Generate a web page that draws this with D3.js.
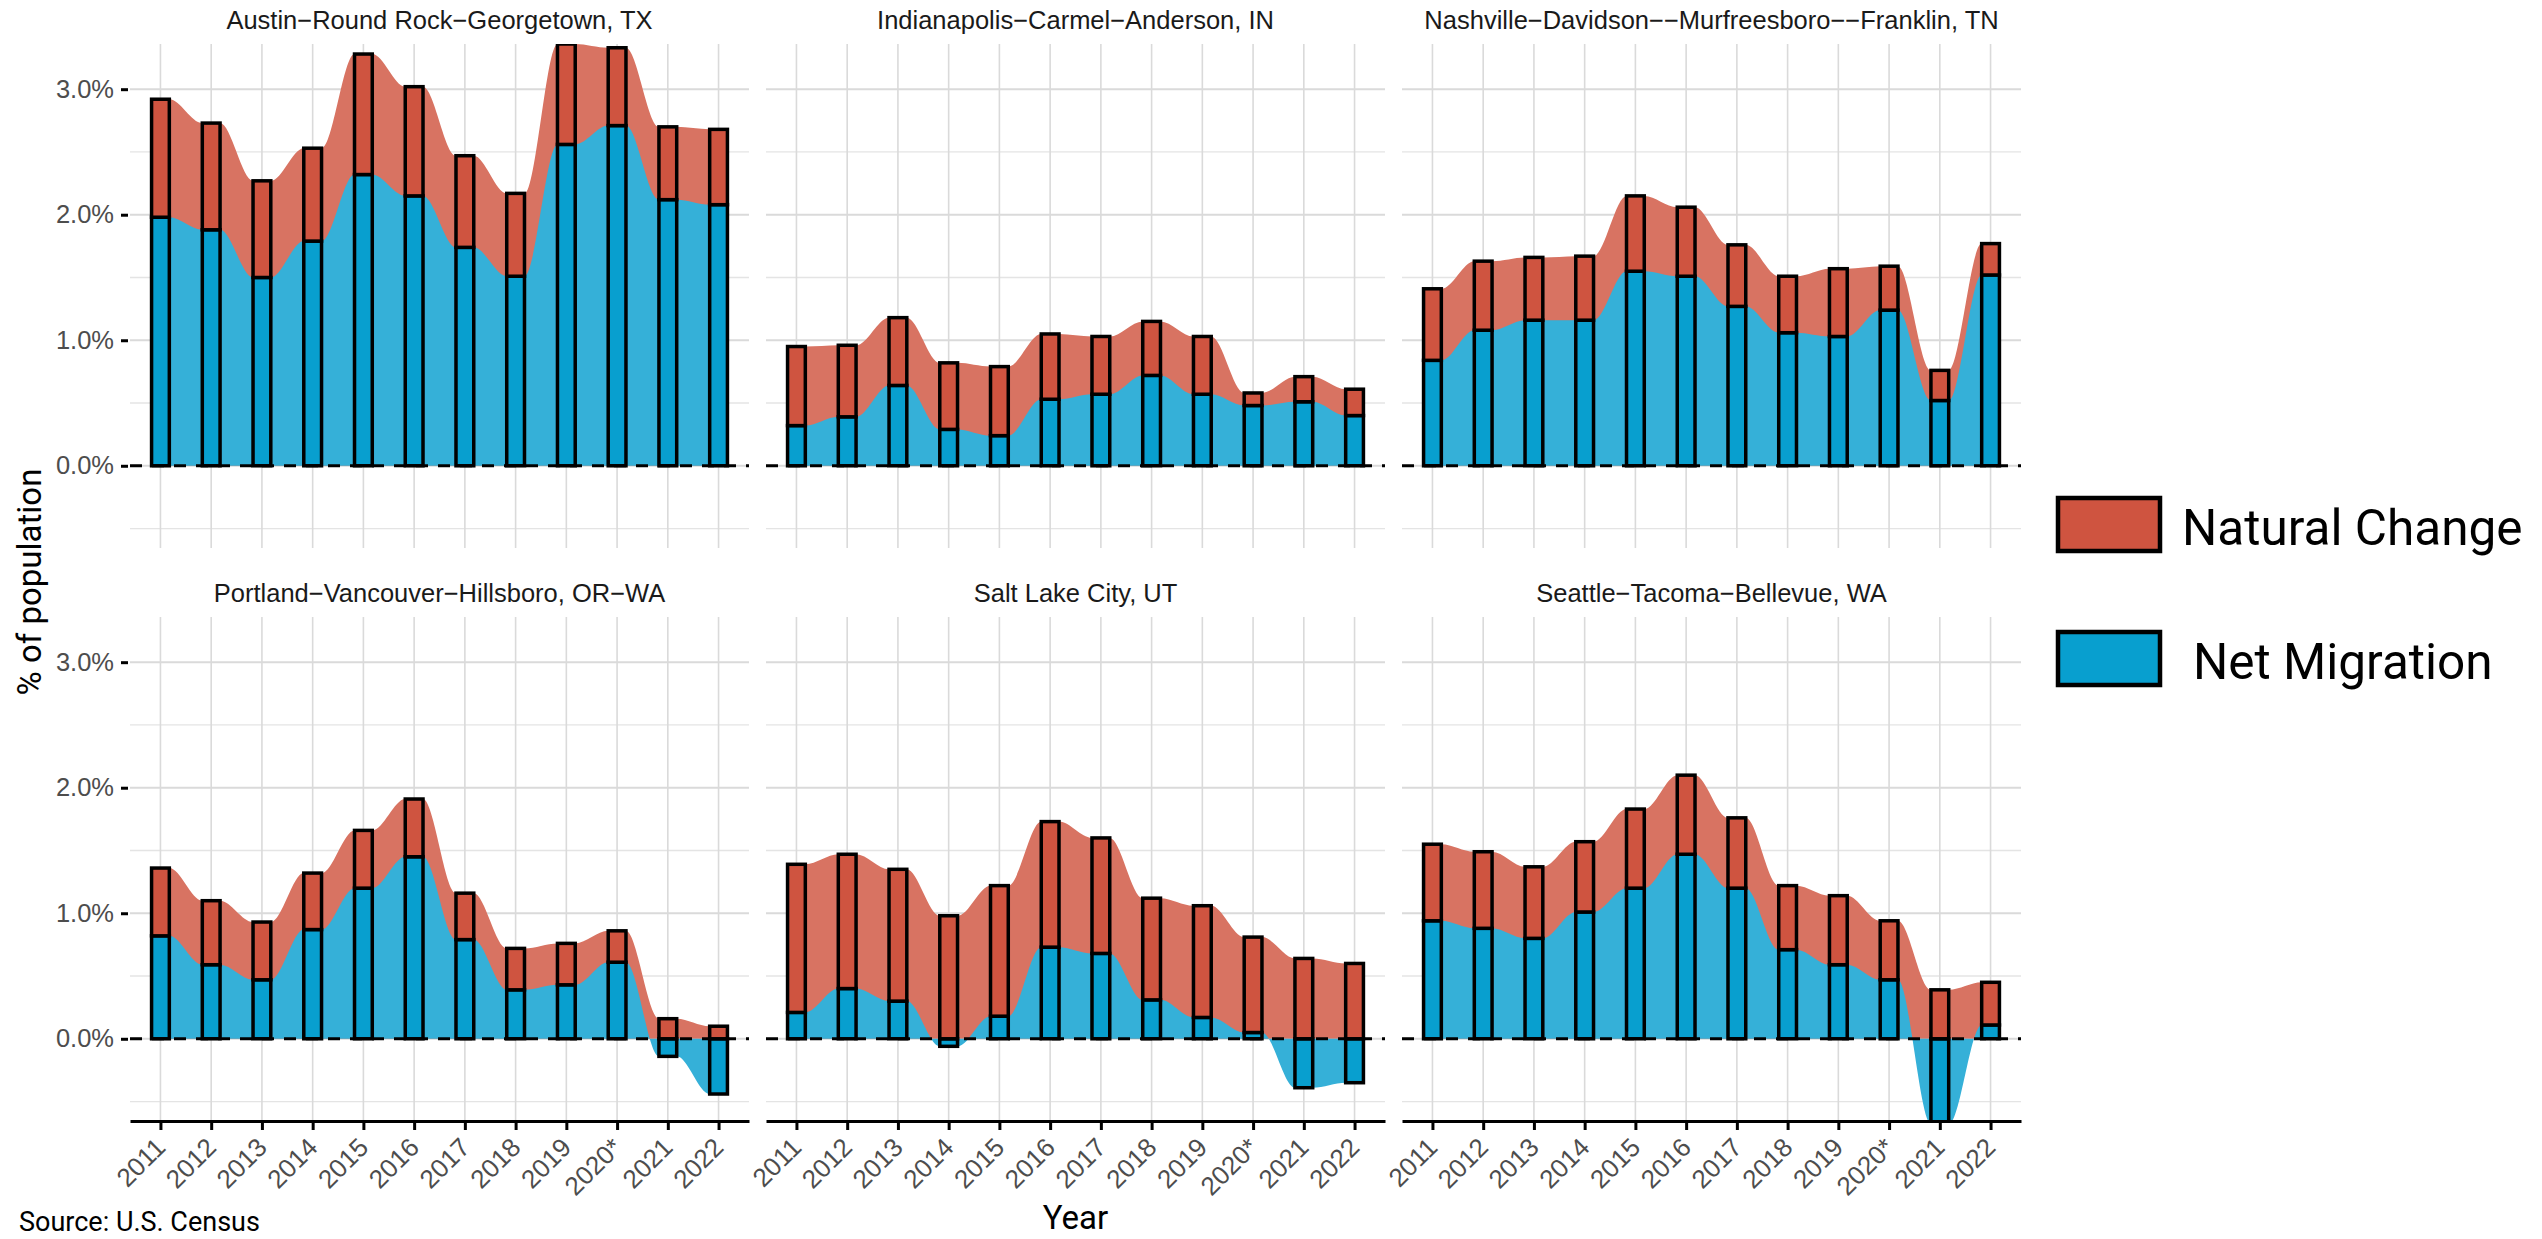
<!DOCTYPE html>
<html>
<head>
<meta charset="utf-8">
<script src="https://cdn.jsdelivr.net/npm/d3@7"></script>
<style>
  body { margin: 0; background: #fff; }
  svg { display: block; }
</style>
</head>
<body>
<svg id="chart" width="2542" height="1239"></svg>
<script>
// years on the x axis
const years = ["2011", "2012", "2013", "2014", "2015", "2016", "2017", "2018", "2019", "2020*", "2021", "2022"];

const metros = [
  "Austin\u2212Round Rock\u2212Georgetown, TX",
  "Indianapolis\u2212Carmel\u2212Anderson, IN",
  "Nashville\u2212Davidson\u2212\u2212Murfreesboro\u2212\u2212Franklin, TN",
  "Portland\u2212Vancouver\u2212Hillsboro, OR\u2212WA",
  "Salt Lake City, UT",
  "Seattle\u2212Tacoma\u2212Bellevue, WA"
];

// % of population, net migration
const austinMigration   = [1.98, 1.88, 1.50, 1.79, 2.32, 2.15, 1.74, 1.51, 2.56, 2.71, 2.12, 2.08];
const indyMigration     = [0.32, 0.39, 0.64, 0.29, 0.24, 0.53, 0.57, 0.72, 0.57, 0.48, 0.51, 0.40];
const nashvilleMigration= [0.84, 1.08, 1.16, 1.16, 1.55, 1.51, 1.27, 1.06, 1.03, 1.24, 0.52, 1.52];
const portlandMigration = [0.82, 0.59, 0.47, 0.87, 1.20, 1.45, 0.79, 0.39, 0.43, 0.61, -0.14, -0.44];
const saltLakeMigration = [0.21, 0.40, 0.30, -0.06, 0.18, 0.73, 0.68, 0.31, 0.17, 0.05, -0.39, -0.35];
const seattleMigration  = [0.94, 0.88, 0.80, 1.01, 1.20, 1.47, 1.20, 0.71, 0.59, 0.47, -0.68, 0.11];

// % of population, natural change
const austinNatural    = [0.94, 0.85, 0.77, 0.74, 0.96, 0.87, 0.73, 0.66, 0.80, 0.62, 0.58, 0.60];
const indyNatural      = [0.63, 0.57, 0.54, 0.53, 0.55, 0.52, 0.46, 0.43, 0.46, 0.10, 0.20, 0.21];
const nashvilleNatural = [0.57, 0.55, 0.50, 0.51, 0.60, 0.55, 0.49, 0.45, 0.54, 0.35, 0.24, 0.25];
const portlandNatural  = [0.54, 0.51, 0.46, 0.45, 0.46, 0.46, 0.37, 0.33, 0.33, 0.25, 0.16, 0.10];
const saltLakeNatural  = [1.18, 1.07, 1.05, 0.98, 1.04, 1.00, 0.92, 0.81, 0.89, 0.76, 0.64, 0.60];
const seattleNatural   = [0.61, 0.61, 0.57, 0.56, 0.63, 0.63, 0.56, 0.51, 0.55, 0.47, 0.39, 0.34];

const yTicks = [0, 1, 2, 3];
const yMinor = [-0.5, 0.5, 1.5, 2.5];

const migration = [austinMigration, indyMigration, nashvilleMigration, portlandMigration, saltLakeMigration, seattleMigration];
const natural = [austinNatural, indyNatural, nashvilleNatural, portlandNatural, saltLakeNatural, seattleNatural];

const RED = "#cf5440", BLUE = "#089fcf";
const RED_AREA = "#d87362", BLUE_AREA = "#35b0d8";
const axisFont = "'Liberation Sans', Arial, Helvetica, sans-serif";
const titleFont = "Roboto, 'Liberation Sans', sans-serif";

const svg = d3.select("#chart");
const colX = [130, 766, 1402], panelW = 619;
const rowY = [44, 617], panelH = 504;

const x = d3.scalePoint().domain(years).range([0, panelW]).padding(0.6);
const y = d3.scaleLinear().domain([-0.655, 3.36]).range([panelH, 0]);
const hb = x.step() * 0.175;   // half bar width

metros.forEach(function(name, i) {
  const col = i % 3, row = Math.floor(i / 3);
  const g = svg.append("g").attr("transform", `translate(${colX[col]},${rowY[row]})`);

  g.append("clipPath").attr("id", "clip" + i)
    .append("rect").attr("width", panelW).attr("height", panelH);

  // grid
  g.selectAll(".minor").data(yMinor).enter().append("line")
    .attr("x1", 0).attr("x2", panelW)
    .attr("y1", d => y(d)).attr("y2", d => y(d))
    .attr("stroke", "#e4e4e4").attr("stroke-width", 1.3);
  g.selectAll(".major").data(yTicks).enter().append("line")
    .attr("x1", 0).attr("x2", panelW)
    .attr("y1", d => y(d)).attr("y2", d => y(d))
    .attr("stroke", "#dadada").attr("stroke-width", 2);
  g.selectAll(".vgrid").data(years).enter().append("line")
    .attr("x1", d => x(d)).attr("x2", d => x(d))
    .attr("y1", 0).attr("y2", panelH)
    .attr("stroke", "#dadada").attr("stroke-width", 1.6);

  const rows = years.map(function(yr, j) {
    const m = migration[i][j], n = natural[i][j];
    const base = Math.max(m, 0);
    return { year: yr, m: m, n: n, base: base, top: base + n };
  });

  // each value held across its bar, then smoothed between bars
  const pts = [];
  rows.forEach(function(d) {
    pts.push(Object.assign({ px: x(d.year) - hb }, d));
    pts.push(Object.assign({ px: x(d.year) + hb }, d));
  });

  const plot = g.append("g").attr("clip-path", `url(#clip${i})`);

  // red under blue, so the two bands never leave a gap
  const redArea = d3.area()
    .x(d => d.px).y0(y(0)).y1(d => y(d.top))
    .curve(d3.curveMonotoneX);
  const blueArea = d3.area()
    .x(d => d.px).y0(y(0)).y1(d => y(d.m))
    .curve(d3.curveMonotoneX);

  plot.append("path").datum(pts).attr("d", redArea).attr("fill", RED_AREA);
  plot.append("path").datum(pts).attr("d", blueArea).attr("fill", BLUE_AREA);

  // dashed zero line
  plot.append("line")
    .attr("x1", 0).attr("x2", panelW)
    .attr("y1", y(0)).attr("y2", y(0))
    .attr("stroke", "#000").attr("stroke-width", 3)
    .attr("stroke-dasharray", "12,10");

  // bars
  plot.selectAll(".mig").data(rows).enter().append("rect")
    .attr("x", d => x(d.year) - hb)
    .attr("y", d => y(Math.max(d.m, 0)))
    .attr("width", hb * 2)
    .attr("height", d => Math.abs(y(d.m) - y(0)))
    .attr("fill", BLUE).attr("stroke", "#000").attr("stroke-width", 3.5);
  plot.selectAll(".nat").data(rows).enter().append("rect")
    .attr("x", d => x(d.year) - hb)
    .attr("y", d => y(d.top))
    .attr("width", hb * 2)
    .attr("height", d => y(d.base) - y(d.top))
    .attr("fill", RED).attr("stroke", "#000").attr("stroke-width", 3.5);

  // strip title
  g.append("text")
    .attr("x", panelW / 2).attr("y", -15.5)
    .attr("text-anchor", "middle")
    .attr("font-family", axisFont).attr("font-size", 25.5)
    .attr("fill", "#1a1a1a")
    .text(name);

  if (col === 0) {
    const ya = g.append("g").attr("transform", "translate(-2,0)")
      .call(d3.axisLeft(y).tickValues(yTicks).tickSize(7).tickPadding(7)
        .tickFormat(d => d.toFixed(1) + "%"));
    ya.select(".domain").remove();
    ya.selectAll(".tick line").attr("stroke", "#000").attr("stroke-width", 3);
    ya.selectAll(".tick text")
      .attr("font-family", axisFont).attr("font-size", 25.5).attr("fill", "#4d4d4d");
  }

  if (row === 1) {
    const xa = g.append("g").attr("transform", `translate(0,${panelH})`)
      .call(d3.axisBottom(x).tickSize(9).tickSizeOuter(0));
    xa.select(".domain").attr("stroke", "#000").attr("stroke-width", 3);
    xa.selectAll(".tick line").attr("stroke", "#000").attr("stroke-width", 3);
    xa.selectAll(".tick text")
      .attr("x", 0).attr("y", 0).attr("dy", null)
      .attr("transform", "translate(6,28) rotate(-45)")
      .attr("text-anchor", "end")
      .attr("font-family", axisFont).attr("font-size", 26).attr("fill", "#4d4d4d");
  }
});

// axis titles and caption
svg.append("text")
  .attr("transform", "translate(41,582) rotate(-90)")
  .attr("text-anchor", "middle")
  .attr("font-family", titleFont).attr("font-size", 33)
  .text("% of population");

svg.append("text")
  .attr("x", 1075.5).attr("y", 1229)
  .attr("text-anchor", "middle")
  .attr("font-family", titleFont).attr("font-size", 33)
  .text("Year");

svg.append("text")
  .attr("x", 19).attr("y", 1231)
  .attr("font-family", titleFont).attr("font-size", 27)
  .text("Source: U.S. Census");

// legend
const legendItems = [
  { label: "Natural Change", color: RED, y: 498, tx: 2182 },
  { label: "Net Migration", color: BLUE, y: 632, tx: 2193 }
];
const lg = svg.append("g");
lg.selectAll("rect").data(legendItems).enter().append("rect")
  .attr("x", 2058).attr("y", d => d.y)
  .attr("width", 102).attr("height", 53)
  .attr("fill", d => d.color).attr("stroke", "#000").attr("stroke-width", 4.5);
lg.selectAll("text").data(legendItems).enter().append("text")
  .attr("x", d => d.tx).attr("y", d => d.y + 47)
  .attr("font-family", titleFont).attr("font-size", 49.5)
  .text(d => d.label);
</script>
</body>
</html>
